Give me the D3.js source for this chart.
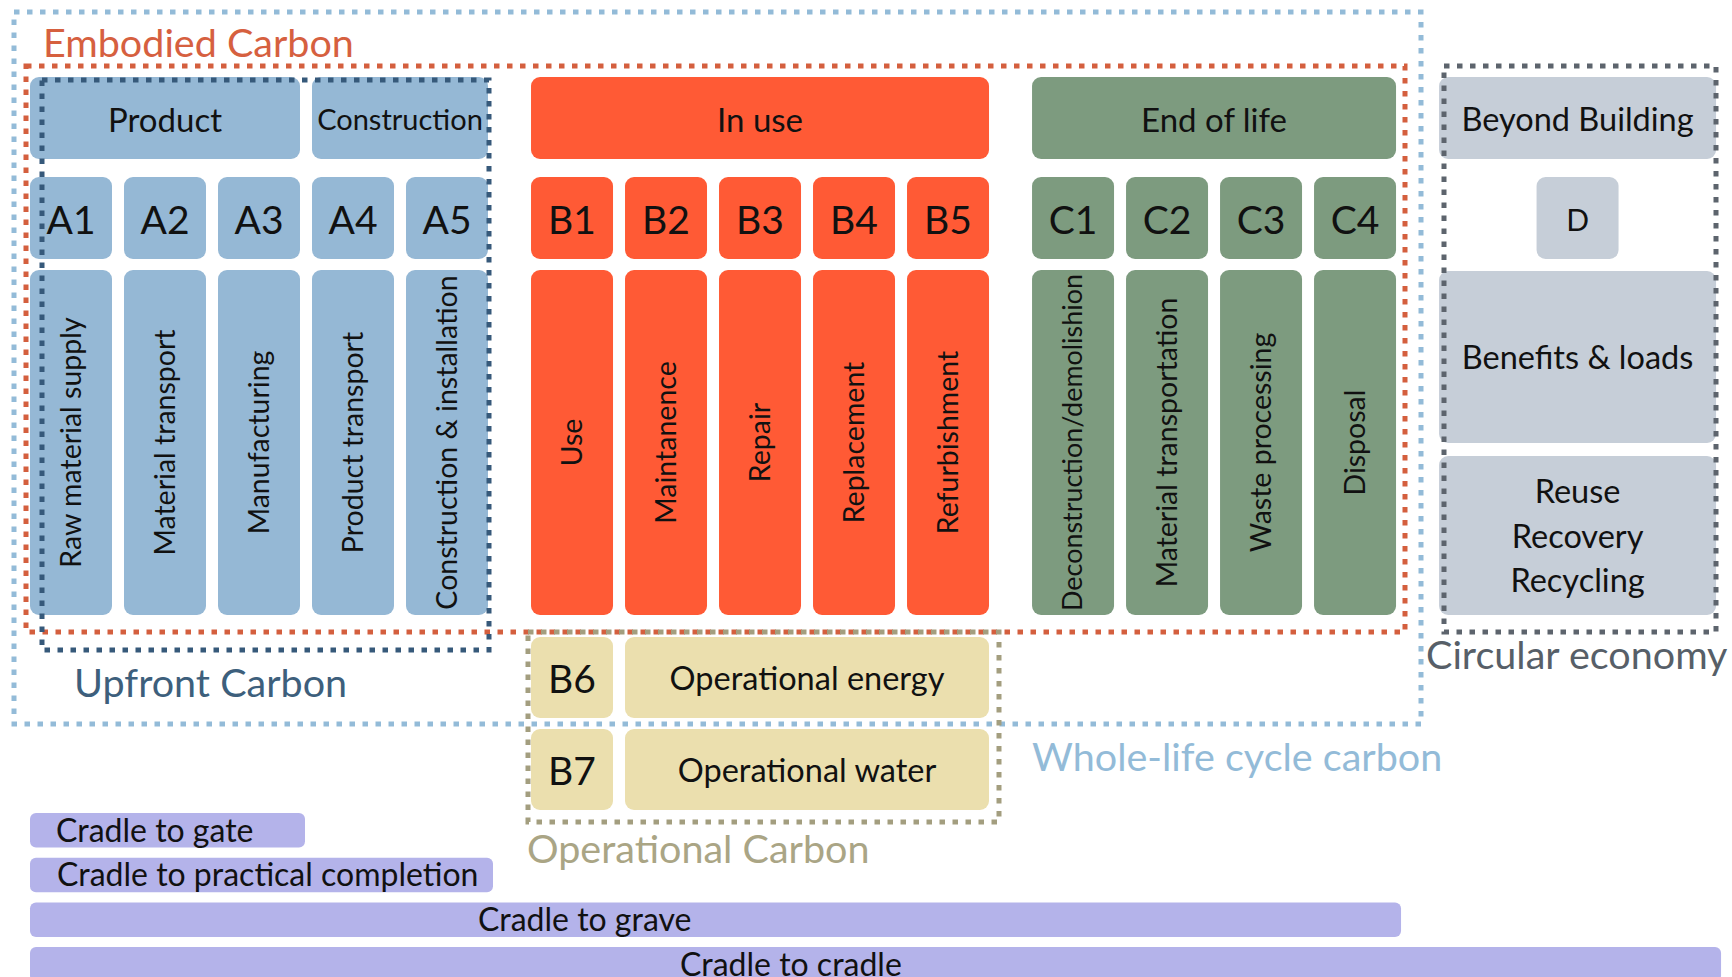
<!DOCTYPE html>
<html>
<head>
<meta charset="utf-8">
<title>Building life cycle stages</title>
<style>
  body { margin: 0; background: #fff; }
  text { font-family: Lato, "Open Sans", sans-serif; fill: #111; }
</style>
</head>
<body>
<script src="https://d3js.org/d3.v7.min.js"></script>
<script>
// life cycle modules (EN 15978 style)
var moduleCodes  = ["A1","A2","A3","A4","A5","B1","B2","B3","B4","B5","C1","C2","C3","C4"];
var moduleLabels = ["Raw material supply","Material transport","Manufacturing","Product transport",
                    "Construction & installation","Use","Maintanence","Repair","Replacement",
                    "Refurbishment","Deconstruction/demolishion","Material transportation",
                    "Waste processing","Disposal"];
var moduleGroup  = ["A","A","A","A","A","B","B","B","B","B","C","C","C","C"];

// header boxes over the modules
var headerNames = ["Product","Construction","In use","End of life"];
var headerFrom  = ["A1","A4","B1","C1"];
var headerTo    = ["A3","A5","B5","C4"];
var headerGroup = ["A","A","B","C"];

// operational carbon modules
var operCodes  = ["B6","B7"];
var operLabels = ["Operational energy","Operational water"];

// beyond building (module D)
var beyondTitle  = "Beyond Building";
var beyondCode   = "D";
var beyondLabels = [["Benefits & loads"],["Reuse","Recovery","Recycling"]];

// scopes of assessment
var scopeNames = ["Cradle to gate","Cradle to practical completion","Cradle to grave","Cradle to cradle"];
var scopeEnd   = ["A3","A5","C4","D"];

// colours
var fillColor = {A:"#95b8d5", B:"#ff5a35", C:"#7d9b7f", D:"#c6ced8", O:"#ebdfae", S:"#b4b3ea"};

var W = 1732, H = 977;
var svg = d3.select("body").append("svg")
    .attr("width", W)
    .attr("height", H);

// column position: one slot per module, a small gap between groups
var groupIndex = {A:0, B:1, C:2, D:3};
var groupGap = 0.33;
var x = d3.scaleLinear().domain([0, 1]).range([30, 124]);
var colW = 82;

function slotOf(code) {
    if (code == "D") return 14 + 3 * groupGap;
    var i = moduleCodes.indexOf(code);
    return i + groupIndex[moduleGroup[i]] * groupGap;
}
function left(code) { return x(slotOf(code)); }
function right(code) {
    if (code == "D") return x(slotOf("D")) + 277;
    return x(slotOf(code)) + colW;
}

var rowY = d3.scaleOrdinal().domain(["head","code","tall"]).range([77, 177, 270]);
var rowH = {head:82, code:82, tall:345};
var r = 9;

var boxes = svg.append("g");

// header row
headerNames.forEach(function(n, i) {
    var x0 = left(headerFrom[i]), x1 = right(headerTo[i]);
    boxes.append("rect")
        .attr("x", x0).attr("y", rowY("head"))
        .attr("width", x1 - x0).attr("height", rowH.head)
        .attr("rx", r)
        .style("fill", fillColor[headerGroup[i]]);
    boxes.append("text")
        .attr("x", (x0 + x1) / 2).attr("y", rowY("head") + rowH.head / 2 + 2)
        .attr("dy", "0.35em")
        .attr("text-anchor", "middle")
        .style("font-size", i == 1 ? "29px" : "33px")
        .text(n);
});

// code row + tall label row
moduleCodes.forEach(function(c, i) {
    var g = moduleGroup[i];
    var x0 = left(c);
    boxes.append("rect")
        .attr("x", x0).attr("y", rowY("code"))
        .attr("width", colW).attr("height", rowH.code)
        .attr("rx", r)
        .style("fill", fillColor[g]);
    boxes.append("text")
        .attr("x", x0 + colW / 2).attr("y", rowY("code") + rowH.code / 2 + 2)
        .attr("dy", "0.36em")
        .attr("text-anchor", "middle")
        .style("font-size", "39px")
        .text(c);
    boxes.append("rect")
        .attr("x", x0).attr("y", rowY("tall"))
        .attr("width", colW).attr("height", rowH.tall)
        .attr("rx", r)
        .style("fill", fillColor[g]);
    var lbl = boxes.append("text")
        .attr("transform", "translate(" + (x0 + colW / 2) + "," + (rowY("tall") + rowH.tall / 2) + ") rotate(-90)")
        .attr("dy", "0.35em")
        .attr("text-anchor", "middle")
        .style("font-size", "28.5px")
        .text(moduleLabels[i]);
    // keep long labels inside the box
    var len = lbl.node().getComputedTextLength();
    if (len > rowH.tall - 8) lbl.style("font-size", (28.5 * (rowH.tall - 8) / len) + "px");
});

// beyond building column
var dx0 = left("D"), dx1 = right("D");
boxes.append("rect")
    .attr("x", dx0).attr("y", rowY("head"))
    .attr("width", dx1 - dx0).attr("height", rowH.head)
    .attr("rx", r).style("fill", fillColor.D);
boxes.append("text")
    .attr("x", (dx0 + dx1) / 2).attr("y", rowY("head") + rowH.head / 2 + 2)
    .attr("dy", "0.35em").attr("text-anchor", "middle")
    .style("font-size", "32.5px")
    .text(beyondTitle);
boxes.append("rect")
    .attr("x", (dx0 + dx1) / 2 - colW / 2).attr("y", rowY("code"))
    .attr("width", colW).attr("height", rowH.code)
    .attr("rx", r).style("fill", fillColor.D);
boxes.append("text")
    .attr("x", (dx0 + dx1) / 2).attr("y", rowY("code") + rowH.code / 2 + 2)
    .attr("dy", "0.35em").attr("text-anchor", "middle")
    .style("font-size", "30px")
    .text(beyondCode);

var beyondY = d3.scaleOrdinal().domain([0, 1]).range([271, 456]);
var beyondH = [172, 159];
beyondLabels.forEach(function(lines, i) {
    boxes.append("rect")
        .attr("x", dx0).attr("y", beyondY(i))
        .attr("width", dx1 - dx0).attr("height", beyondH[i])
        .attr("rx", r).style("fill", fillColor.D);
    var cy = beyondY(i) + beyondH[i] / 2;
    lines.forEach(function(t, j) {
        boxes.append("text")
            .attr("x", (dx0 + dx1) / 2)
            .attr("y", cy + (j - (lines.length - 1) / 2) * 44.5 + 1)
            .attr("dy", "0.35em").attr("text-anchor", "middle")
            .style("font-size", "32.5px")
            .text(t);
    });
});

// operational carbon rows
var operY = d3.scaleBand().domain(operCodes).range([637, 810]).paddingInner(0.12);
var ox0 = left("B1"), ox1 = right("B5");
operCodes.forEach(function(c, i) {
    boxes.append("rect")
        .attr("x", ox0).attr("y", operY(c))
        .attr("width", colW).attr("height", operY.bandwidth())
        .attr("rx", r).style("fill", fillColor.O);
    boxes.append("text")
        .attr("x", ox0 + colW / 2).attr("y", operY(c) + operY.bandwidth() / 2 + 1)
        .attr("dy", "0.36em").attr("text-anchor", "middle")
        .style("font-size", "39px")
        .text(c);
    boxes.append("rect")
        .attr("x", left("B2")).attr("y", operY(c))
        .attr("width", ox1 - left("B2")).attr("height", operY.bandwidth())
        .attr("rx", r).style("fill", fillColor.O);
    boxes.append("text")
        .attr("x", (left("B2") + ox1) / 2).attr("y", operY(c) + operY.bandwidth() / 2 + 1)
        .attr("dy", "0.35em").attr("text-anchor", "middle")
        .style("font-size", "32.5px")
        .text(operLabels[i]);
});

// scope bars
var scopeY = d3.scaleBand().domain(scopeNames).range([813, 981.6]).paddingInner(0.228);
var scopeTextX = [56, 57, 478, 680];
scopeNames.forEach(function(n, i) {
    var x1 = right(scopeEnd[i]) + 5;
    boxes.append("rect")
        .attr("x", 30).attr("y", scopeY(n))
        .attr("width", x1 - 30).attr("height", scopeY.bandwidth())
        .attr("rx", 6).style("fill", fillColor.S);
    boxes.append("text")
        .attr("x", scopeTextX[i]).attr("y", scopeY(n) + scopeY.bandwidth() / 2)
        .attr("dy", "0.36em")
        .style("font-size", "32px")
        .text(n);
});

// dotted frames
var frames = [
    {x0:14,   y0:12,  x1:1421, y1:724, c:"#93bbd8"},
    {x0:26,   y0:66,  x1:1405, y1:632, c:"#d45f3e"},
    {x0:42,   y0:80,  x1:489,  y1:650, c:"#36597a"},
    {x0:1444, y0:66,  x1:1716, y1:632, c:"#5d646d"},
    {x0:528,  y0:632, x1:999,  y1:822, c:"#a39e7f"}
];
svg.append("g").selectAll("rect")
    .data(frames)
    .enter().append("rect")
    .attr("x", function(d) { return d.x0; })
    .attr("y", function(d) { return d.y0; })
    .attr("width", function(d) { return d.x1 - d.x0; })
    .attr("height", function(d) { return d.y1 - d.y0; })
    .style("fill", "none")
    .style("stroke", function(d) { return d.c; })
    .style("stroke-width", 5)
    .style("stroke-dasharray", "5.5 7.5");

// frame titles
var titles = [
    {t:"Embodied Carbon",         x:43,   y:57,  c:"#d6603f"},
    {t:"Upfront Carbon",          x:74,   y:697, c:"#3d5f7c"},
    {t:"Operational Carbon",      x:527,  y:863, c:"#aaa585"},
    {t:"Whole-life cycle carbon", x:1032, y:771, c:"#93bbd8"},
    {t:"Circular economy",        x:1426, y:669, c:"#575f68"}
];
svg.append("g").selectAll("text")
    .data(titles)
    .enter().append("text")
    .attr("x", function(d) { return d.x; })
    .attr("y", function(d) { return d.y; })
    .style("font-size", "39.5px")
    .style("fill", function(d) { return d.c; })
    .text(function(d) { return d.t; });
</script>
</body>
</html>
